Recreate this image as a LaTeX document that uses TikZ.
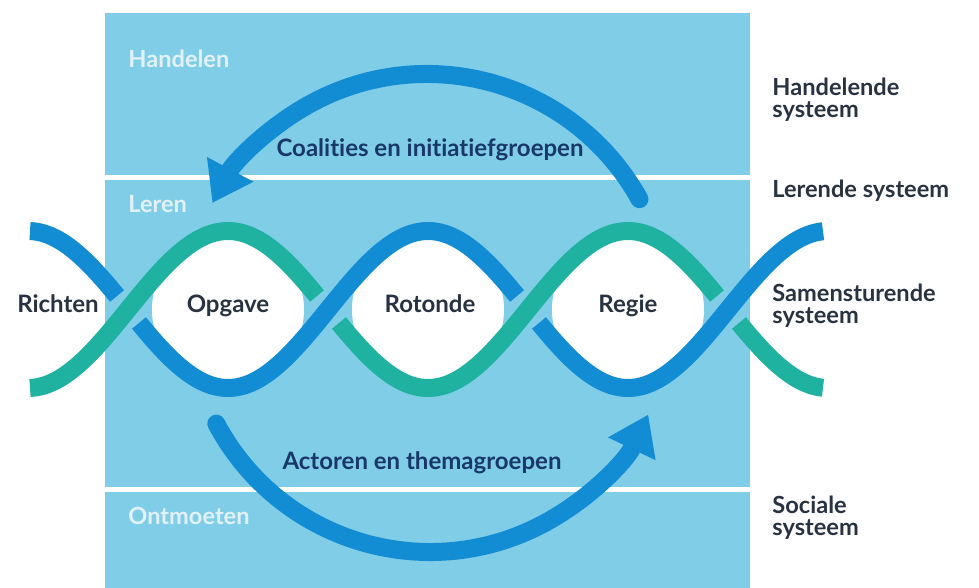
\documentclass[tikz,border=0pt]{standalone}
\usepackage{fontspec}
\setmainfont{Lato}[Ligatures=NoCommon]
\usetikzlibrary{arrows.meta}

\definecolor{boxblue}{RGB}{128,205,232}
\definecolor{strandblue}{RGB}{18,140,210}
\definecolor{strandteal}{RGB}{32,178,160}
\definecolor{darktext}{RGB}{40,50,64}
\definecolor{navytext}{RGB}{25,55,105}
\definecolor{palelabel}{RGB}{226,241,248}

\tikzset{
  strandline/.style={line width=9pt, line cap=butt},
  flowarrow/.style={strandblue, line width=9pt, line cap=round,
    -{Triangle[width=25pt,length=19pt]}},
  layerlabel/.style={palelabel, font=\bfseries\fontsize{11.8}{13}\selectfont,
    anchor=base west, inner sep=0pt},
  eyelabel/.style={darktext, font=\bfseries\fontsize{12}{13}\selectfont,
    anchor=base, inner sep=0pt},
  flowlabel/.style={navytext, font=\bfseries\fontsize{12}{13}\selectfont,
    anchor=base, inner sep=0pt},
  systemlabel/.style={darktext, font=\bfseries\fontsize{11.8}{10.6}\selectfont,
    anchor=north west, align=left, inner sep=0pt}
}

\begin{document}
\begin{tikzpicture}[x=0.5pt, y=0.5pt]

\useasboundingbox (0,0) rectangle (979,588);

% layers
\fill[boxblue] (105,0) rectangle (750,575);
\draw[white, line width=2.5pt] (105,410) -- (750,410);
\draw[white, line width=2.5pt] (105,98) -- (750,98);

\node[layerlabel] (handelen) at (128,520) {Handelen};
\node[layerlabel] (leren) at (128,375) {Leren};
\node[layerlabel] (ontmoeten) at (128,63) {Ontmoeten};

% eyes of the helix
\foreach \cx in {228,428,628}
  \fill[white] (\cx,278.5) circle[radius=76];

% the two strands, gaps where the other one passes over
\draw[strandline, strandblue] plot[domain=30:117, samples=40] (\x,{278.5+78.5*cos(0.9*(\x-28))});
\draw[strandline, strandblue] plot[domain=139:517, samples=120] (\x,{278.5+78.5*cos(0.9*(\x-28))});
\draw[strandline, strandblue] plot[domain=539:823, samples=90] (\x,{278.5+78.5*cos(0.9*(\x-28))});

\draw[strandline, strandteal] plot[domain=30:317, samples=90] (\x,{278.5-78.5*cos(0.9*(\x-28))});
\draw[strandline, strandteal] plot[domain=339:717, samples=120] (\x,{278.5-78.5*cos(0.9*(\x-28))});
\draw[strandline, strandteal] plot[domain=739:823, samples=40] (\x,{278.5-78.5*cos(0.9*(\x-28))});

\node[eyelabel] (richten) at (58,275) {Richten};
\node[eyelabel] (opgave) at (228,275) {Opgave};
\node[eyelabel] (rotonde) at (430,275) {Rotonde};
\node[eyelabel] (regie) at (628,275) {Regie};

% loops
\coordinate (coalstart) at (639.5,388.8);
\coordinate (actstart) at (216.3,164.4);

\draw[flowarrow] (coalstart) arc[start angle=29, end angle=152, radius=243];
\draw[flowarrow] (actstart) arc[start angle=208, end angle=334.4, radius=242];

\node[flowlabel] (coalities) at (430,431) {Coalities en initiatiefgroepen};
\node[flowlabel] (actoren) at (422,118) {Actoren en themagroepen};

% systems
\node[systemlabel] (handelende) at (772,510) {Handelende\\systeem};
\node[systemlabel] (lerende) at (772,408) {Lerende systeem};
\node[systemlabel] (samensturende) at (772,304) {Samensturende\\systeem};
\node[systemlabel] (sociale) at (772,92) {Sociale\\systeem};

\end{tikzpicture}
\end{document}
